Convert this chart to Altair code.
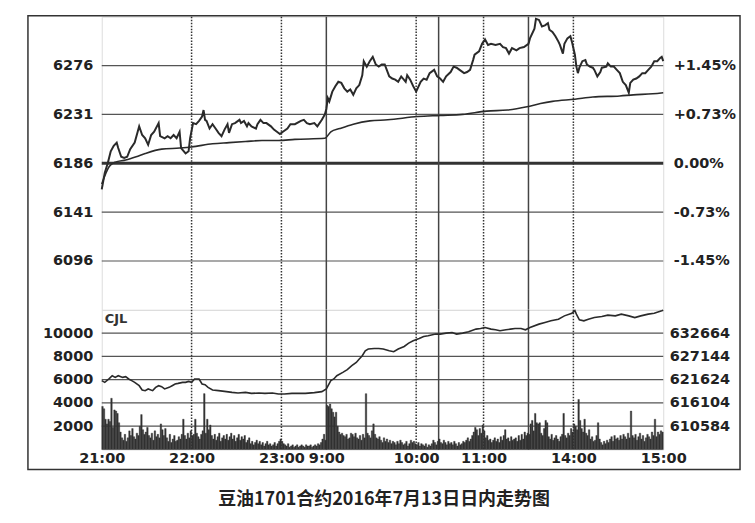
import altair as alt
import pandas as pd

BASE_PRICE = 6186  # 昨日结算价 (0.00%)

# ---- 价格线 (minute index since 21:00 in trading time, price) ----
price_minutes = [0, 2, 4, 6, 8, 10, 11, 13, 15, 17, 19, 22, 24, 25, 27, 29, 31, 33, 35, 38,
                 39, 42, 44, 46, 48, 50, 52, 53, 56, 58, 59, 61, 63, 65, 67, 68, 69, 70, 72, 74,
                 76, 78, 80, 82, 84, 85, 87, 89, 92, 93, 95, 97, 98, 100, 103, 104, 106, 108, 110, 113,
                 115, 117, 119, 121, 124, 126, 129, 133, 135, 137, 139, 142, 144, 147, 149, 150, 151, 152, 154, 156,
                 158, 160, 162, 164, 166, 168, 170, 172, 174, 175, 177, 179, 181, 183, 185, 187, 189, 192, 194, 196,
                 198, 200, 203, 204, 206, 208, 210, 213, 215, 217, 219, 222, 224, 226, 228, 230, 233, 235, 237, 239,
                 242, 244, 246, 248, 249, 252, 254, 256, 258, 260, 263, 266, 268, 270, 272, 274, 277, 279, 282, 285,
                 286, 289, 290, 292, 293, 294, 296, 298, 299, 301, 303, 305, 306, 308, 309, 311, 313, 314, 316, 317,
                 318, 319, 321, 323, 324, 326, 328, 329, 331, 333, 334, 337, 338, 340, 342, 344, 346, 348, 350, 352,
                 353, 355, 357, 359, 361, 363, 365, 367, 369, 371, 373, 374, 375]
price_values = [6162, 6177, 6186, 6197, 6202, 6205, 6200, 6192, 6191, 6192, 6199, 6205, 6215, 6220, 6212, 6209, 6203, 6212, 6215, 6223,
                6211, 6209, 6211, 6209, 6212, 6209, 6215, 6200, 6195, 6197, 6209, 6223, 6222, 6225, 6229, 6235, 6226, 6225, 6218, 6222,
                6218, 6214, 6211, 6217, 6222, 6214, 6222, 6223, 6226, 6223, 6225, 6220, 6223, 6220, 6218, 6222, 6226, 6223, 6223, 6220,
                6217, 6215, 6213, 6215, 6218, 6222, 6222, 6225, 6226, 6223, 6222, 6223, 6220, 6226, 6231, 6236, 6246, 6243, 6252, 6257,
                6261, 6260, 6255, 6252, 6254, 6249, 6255, 6258, 6267, 6280, 6275, 6280, 6284, 6277, 6275, 6277, 6277, 6266, 6264, 6263,
                6261, 6266, 6261, 6267, 6263, 6257, 6252, 6261, 6264, 6263, 6269, 6272, 6266, 6264, 6261, 6266, 6270, 6275, 6274, 6272,
                6269, 6270, 6272, 6281, 6286, 6289, 6296, 6300, 6295, 6296, 6295, 6296, 6293, 6292, 6287, 6292, 6290, 6292, 6293, 6296,
                6301, 6310, 6319, 6318, 6315, 6312, 6313, 6315, 6309, 6307, 6303, 6298, 6295, 6287, 6296, 6301, 6303, 6298, 6286, 6275,
                6269, 6274, 6280, 6281, 6277, 6275, 6274, 6272, 6266, 6270, 6274, 6275, 6278, 6275, 6275, 6272, 6269, 6261, 6258, 6251,
                6260, 6263, 6264, 6266, 6269, 6269, 6272, 6275, 6280, 6280, 6283, 6284, 6280]

# ---- 均价线 ----
avg_minutes = [0, 5, 9, 16, 23, 29, 40, 52, 60, 74, 85, 96, 107, 118, 129, 149, 153, 159, 168, 179,
               191, 211, 226, 241, 257, 271, 284, 293, 301, 316, 328, 346, 355, 368, 375]
avg_values = [6167, 6183, 6187, 6189, 6192, 6195, 6199, 6200, 6201, 6204, 6205, 6206, 6207, 6207, 6208, 6209, 6215, 6218, 6222, 6225,
              6226, 6229, 6230, 6231, 6234, 6235, 6238, 6241, 6243, 6245, 6247, 6248, 6249, 6250, 6251]

# ---- 成交量 (CJL), one bar per trading minute 0..374 ----
volume_values = [
    3700, 3500, 2600, 2200, 2600, 2400, 4400, 1900, 3400, 3300,
    3100, 2300, 1500, 1000, 800, 1300, 700, 1000, 1600, 1200,
    1800, 1100, 900, 1400, 1200, 2000, 3000, 1700, 1300, 1500,
    1900, 1200, 1000, 1400, 800, 1600, 1100, 1300, 1000, 2200,
    1700, 1200, 1800, 1000, 700, 1300, 600, 900, 1200, 700,
    800, 1100, 900, 1300, 2600, 1200, 900, 1400, 1000, 1600,
    1200, 1300, 2600, 1400, 1100, 900, 1300, 1600, 4800, 1400,
    2600, 1700, 2100, 1200, 900, 1300, 800, 1100, 1400, 700,
    1000, 1200, 900, 1300, 800, 1100, 1400, 900, 1200, 700,
    1000, 1300, 800, 1100, 900, 1200, 600, 800, 1000, 500,
    700, 400, 600, 800, 500, 700, 400, 600, 300, 500,
    700, 400, 500, 300, 400, 600, 300, 500, 700, 900,
    700, 500, 400, 300, 500, 200, 300, 400, 200, 300,
    400, 200, 300, 400, 300, 200, 400, 300, 300, 400,
    200, 300, 400, 300, 500, 400, 600, 900, 1300, 800,
    3800, 3700, 3900, 3500, 3200, 2800, 3200, 2000, 1500, 1300,
    1400, 1200, 1100, 1300, 900, 1000, 1400, 1300, 1100, 1400,
    1000, 900, 1200, 800, 1300, 1000, 4800, 1400, 1200, 1000,
    1600, 2200, 1300, 1000, 900, 1100, 800, 600, 1000, 700,
    900, 600, 800, 500, 700, 600, 400, 700, 500, 800,
    600, 400, 500, 700, 300, 500, 800, 600, 700, 500,
    400, 600, 300, 500, 400, 300, 500, 200, 400, 300,
    500, 800, 600, 400, 700, 900, 600, 500, 800, 600,
    400, 700, 500, 600, 400, 700, 500, 300, 600, 400,
    500, 700, 600, 800, 1000, 700, 900, 1200, 1500, 1900,
    1700, 1200, 1800, 1400, 2100, 1600, 1000, 1200, 800, 900,
    600, 800, 1000, 700, 900, 600, 1100, 800, 1200, 1700,
    900, 1000, 700, 1100, 800, 900, 1000, 700, 1200, 800,
    1300, 900, 1500, 1200, 1400, 1300, 2200, 2500, 1600, 3100,
    2300, 2200, 2300, 1400, 1200, 1800, 2500, 2300, 1100, 900,
    1300, 800, 1000, 1200, 900, 700, 1100, 1300, 3100, 1200,
    1000, 1400, 1200, 1800, 1500, 2200, 2000, 1700, 4300, 2500,
    1800, 1500, 2600, 1400, 1200, 1700, 900, 1100, 700, 800,
    1200, 2300, 900, 600, 400, 700, 500, 800, 600, 900,
    1100, 700, 1200, 900, 1000, 800, 1200, 900, 1300, 1100,
    900, 1400, 1000, 3300, 1200, 1000, 1300, 800, 1100, 1400,
    900, 1200, 700, 1000, 1300, 1100, 900, 1500, 1200, 2600,
    1100, 1500, 1300, 1600, 1500,
]

# ---- 持仓量 ----
oi_minutes = [0, 2, 5, 7, 9, 11, 14, 16, 18, 20, 22, 25, 27, 29, 31, 34, 36, 38, 40, 42,
              45, 47, 49, 51, 54, 56, 58, 60, 62, 65, 67, 69, 71, 74, 78, 82, 87, 91, 96, 100,
              105, 109, 114, 118, 122, 127, 131, 136, 142, 147, 150, 153, 155, 157, 161, 164, 167, 170, 172, 174,
              176, 178, 182, 185, 188, 192, 195, 198, 202, 205, 208, 212, 215, 218, 223, 226, 230, 234, 237, 241,
              245, 250, 253, 256, 260, 263, 266, 270, 273, 276, 280, 283, 286, 292, 296, 300, 305, 309, 314, 316,
              317, 319, 322, 325, 329, 334, 338, 343, 347, 352, 356, 360, 365, 369, 374, 375]
oi_values = [621390, 620990, 621860, 622570, 622170, 622570, 622170, 622330, 621790, 621390,
             620990, 620200, 619190, 619020, 619420, 619020, 619800, 620200, 619970, 619420,
             619800, 620200, 620610, 620750, 620990, 620990, 621220, 620990, 621790, 621790,
             620610, 620440, 619800, 619190, 619020, 618860, 618620, 618480, 618620, 618380,
             618480, 618380, 618480, 618240, 618240, 618380, 618380, 618380, 618550, 618790,
             619420, 621390, 621790, 622570, 623350, 623990, 624940, 625720, 626520, 627300,
             628480, 628890, 629030, 629030, 628890, 628480, 628250, 628890, 629500, 630310,
             630850, 631390, 631870, 632030, 632440, 632440, 632670, 632810, 632440, 632670,
             632980, 633620, 633760, 634000, 633620, 633450, 633220, 633450, 633620, 633760,
             633760, 633450, 634000, 634800, 635180, 635580, 635980, 636760, 637400, 638000,
             637170, 635820, 635580, 635980, 636360, 636600, 636930, 636760, 637170, 636760,
             636360, 636760, 637170, 637400, 637950, 638100]

# ---- axes / ticks ----
price_ticks = [6096, 6141, 6186, 6231, 6276]
price_grid = [6096, 6141, 6231, 6276]
price_domain = [6051, 6321]
vol_ticks = [2000, 4000, 6000, 8000, 10000]
vol_domain = [0, 12000]
oi_ticks = [610584, 616104, 621624, 627144, 632664]
oi_domain = [605064, 638184]
time_tick_minutes = [0, 60, 120, 150, 210, 255, 315, 375]
time_tick_labels = ["21:00", "22:00", "23:00", "9:00", "10:00", "11:00", "14:00", "15:00"]
session_break_minutes = [150, 225, 285]
hour_minutes = [60, 120, 210, 255, 315]
caption = "豆油1701合约2016年7月13日日内走势图"

assert len(price_minutes) == len(price_values)
assert len(avg_minutes) == len(avg_values)
assert len(oi_minutes) == len(oi_values)

price_df = pd.DataFrame({"m": price_minutes, "price": price_values})
avg_df = pd.DataFrame({"m": avg_minutes, "avg": avg_values})
vol_df = pd.DataFrame({"m": list(range(len(volume_values))), "v": volume_values})
vol_df["m2"] = vol_df["m"] + 1
vol_df["v0"] = 0
oi_df = pd.DataFrame({"m": oi_minutes, "oi": oi_values})

W, HP, HV = 563, 294, 140
FONT = "DejaVu Sans"
INK = "#2a2a2a"
GRID = "#555555"

xs = alt.Scale(domain=[0, 375], nice=False, zero=False)
time_expr = "".join(f"datum.value == {m} ? '{lab}' : " for m, lab in zip(time_tick_minutes, time_tick_labels)) + "''"
pct_expr = (f"(datum.value > {BASE_PRICE} ? '+' : datum.value < {BASE_PRICE} ? '-' : '') + "
            f"format(abs(datum.value - {BASE_PRICE}) / {BASE_PRICE} * 100, '.2f') + '%'")

lab = dict(labelFont=FONT, labelFontSize=14.5, labelFontWeight="bold", labelColor="#222",
           ticks=False, domain=False, grid=False, title=None, labelOverlap=False)

price_axis = alt.Axis(orient="left", values=price_ticks, format="d", labelPadding=9, **lab)
pct_axis = alt.Axis(orient="right", values=price_ticks, labelExpr=pct_expr, labelPadding=10, **lab)
vol_axis = alt.Axis(orient="left", values=vol_ticks, format="d", labelPadding=9, **lab)
oi_axis = alt.Axis(orient="right", values=oi_ticks, format="d", labelPadding=6, **lab)
time_axis = alt.Axis(orient="bottom", values=time_tick_minutes, labelExpr=time_expr, labelPadding=2,
                     labelFlush=False, labelBound=False, **lab)


def vlines(axis):
    dotted = alt.Chart(pd.DataFrame({"m": hour_minutes})).mark_rule(
        color="#333", strokeWidth=1.5, strokeDash=[1.5, 1.5]
    ).encode(x=alt.X("m:Q", scale=xs, axis=axis))
    solid = alt.Chart(pd.DataFrame({"m": session_break_minutes})).mark_rule(
        color="#444", strokeWidth=1.5
    ).encode(x=alt.X("m:Q", scale=xs, axis=axis))
    return dotted, solid


# ---------- price panel ----------
ys_p = alt.Scale(domain=price_domain, nice=False, zero=False)
grid_p = alt.Chart(pd.DataFrame({"p": price_grid})).mark_rule(color=GRID, strokeWidth=1.2).encode(
    y=alt.Y("p:Q", scale=ys_p, axis=price_axis))
zero_p = alt.Chart(pd.DataFrame({"p": [BASE_PRICE]})).mark_rule(color="#333", strokeWidth=3).encode(
    y=alt.Y("p:Q", scale=ys_p, axis=price_axis))
dot_p, sol_p = vlines(None)
avg_line = alt.Chart(avg_df).mark_line(color=INK, strokeWidth=1.6, interpolate="monotone").encode(
    x=alt.X("m:Q", scale=xs, axis=None), y=alt.Y("avg:Q", scale=ys_p, axis=price_axis))
price_line = alt.Chart(price_df).mark_line(color=INK, strokeWidth=2).encode(
    x=alt.X("m:Q", scale=xs, axis=None), y=alt.Y("price:Q", scale=ys_p, axis=price_axis))
pct_layer = alt.Chart(price_df).mark_line(opacity=0).encode(
    x=alt.X("m:Q", scale=xs, axis=None),
    y=alt.Y("price:Q", scale=alt.Scale(domain=price_domain, nice=False, zero=False), axis=pct_axis))

price_panel = alt.layer(
    alt.layer(grid_p, zero_p, dot_p, sol_p, avg_line, price_line), pct_layer
).resolve_scale(y="independent").properties(width=W, height=HP)

# ---------- volume panel ----------
ys_v = alt.Scale(domain=vol_domain, nice=False, zero=True)
grid_v = alt.Chart(pd.DataFrame({"v": vol_ticks})).mark_rule(color=GRID, strokeWidth=1.2).encode(
    y=alt.Y("v:Q", scale=ys_v, axis=vol_axis))
dot_v, sol_v = vlines(time_axis)
bars = alt.Chart(vol_df).mark_rect(color="#333333", stroke="#333333", strokeWidth=0.4).encode(
    x=alt.X("m:Q", scale=xs, axis=time_axis), x2="m2:Q",
    y=alt.Y("v:Q", scale=ys_v, axis=vol_axis), y2="v0:Q")
cjl = alt.Chart(pd.DataFrame({"t": ["CJL"]})).mark_text(
    align="left", baseline="top", font=FONT, fontSize=13, fontWeight="bold", color="#333"
).encode(x=alt.value(3), y=alt.value(3), text="t:N")
frame = alt.Chart(pd.DataFrame({"k": [0]})).mark_rect(filled=False, color="#333", strokeWidth=1.5).encode(
    x=alt.value(-74), x2=alt.value(W + 77), y=alt.value(-(HP + 1)), y2=alt.value(HV + 20))
oi_line = alt.Chart(oi_df).mark_line(color=INK, strokeWidth=1.6).encode(
    x=alt.X("m:Q", scale=xs, axis=time_axis),
    y=alt.Y("oi:Q", scale=alt.Scale(domain=oi_domain, nice=False, zero=False), axis=oi_axis))

vol_panel = alt.layer(
    alt.layer(grid_v, dot_v, sol_v, bars, cjl, frame), oi_line
).resolve_scale(y="independent").properties(width=W, height=HV)

chart = alt.vconcat(price_panel, vol_panel, spacing=0, bounds="flush").resolve_scale(
    x="independent", y="independent"
).properties(
    padding={"left": 18, "top": 5, "right": 5, "bottom": 5},
    title=alt.TitleParams(caption, orient="bottom", anchor="middle", offset=20,
                          font="Noto Sans CJK SC", fontSize=18, fontWeight="bold", color="#222"),
).configure_view(stroke="#333", strokeWidth=1.5).configure(background="white")

chart.save("out.html", embed_options={"renderer": "svg", "actions": False})
